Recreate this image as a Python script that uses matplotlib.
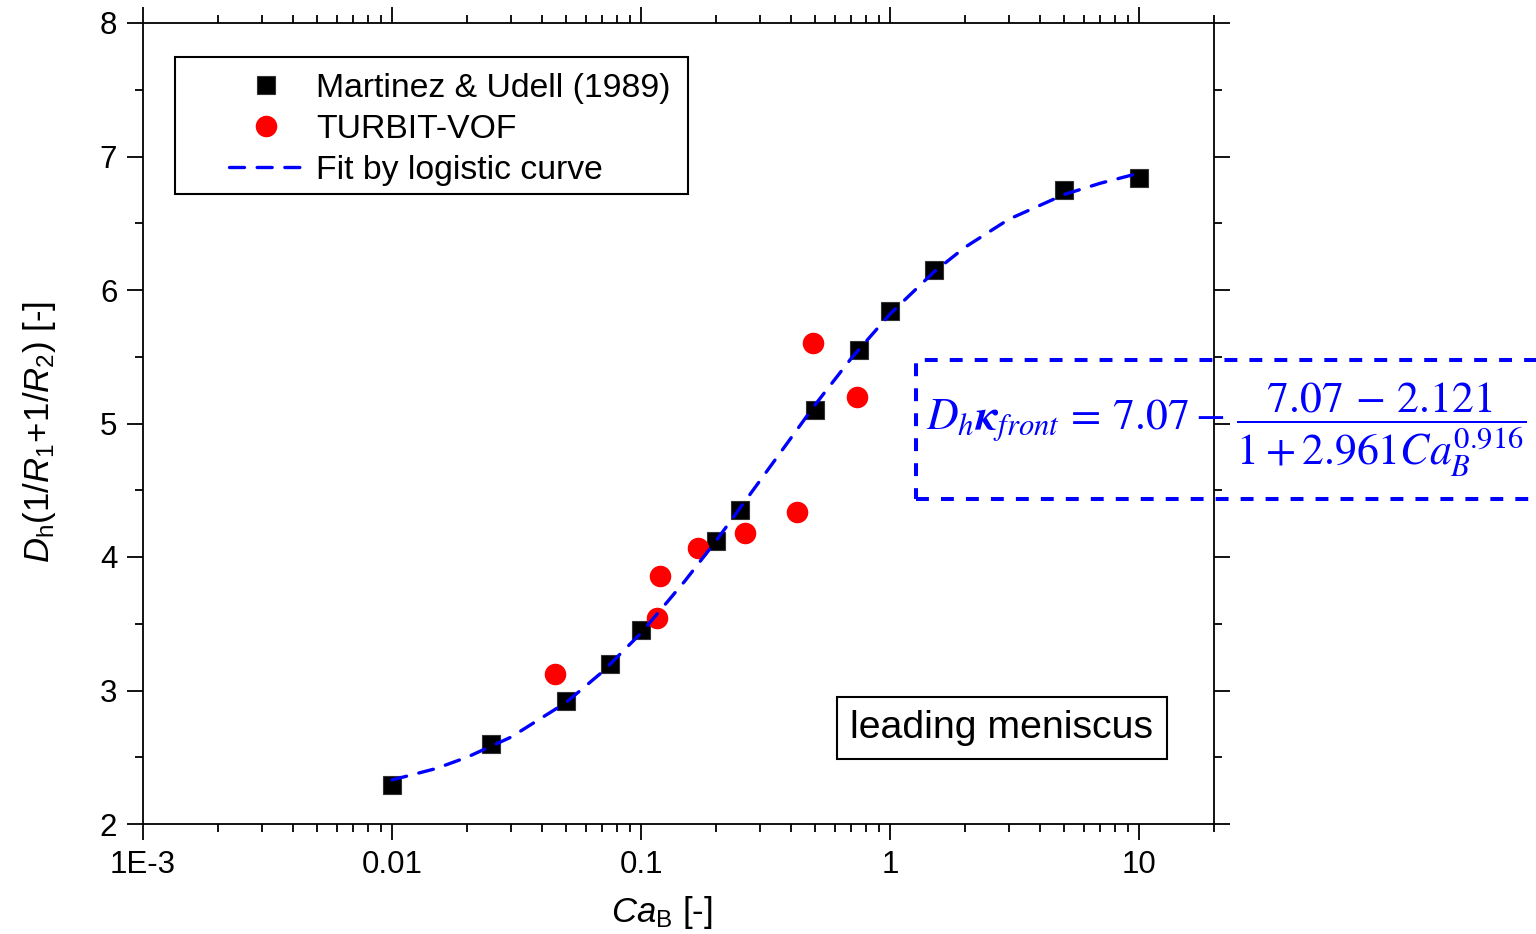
import matplotlib
matplotlib.use("Agg")
import matplotlib.pyplot as plt
from matplotlib.ticker import FixedLocator, FixedFormatter, LogLocator, NullFormatter, MultipleLocator
from matplotlib.patches import Rectangle

plt.rcParams['font.family'] = ['Liberation Sans', 'DejaVu Sans']
plt.rcParams['mathtext.fontset'] = 'custom'
plt.rcParams['mathtext.rm'] = 'Liberation Sans'
plt.rcParams['mathtext.it'] = 'Liberation Sans:italic'
plt.rcParams['mathtext.bf'] = 'Liberation Sans:bold'

# ---- data ----
exp_ca = [0.01, 0.025, 0.05, 0.075, 0.1, 0.2, 0.25, 0.5, 0.75, 1.0, 1.5, 5.0, 10.0]
exp_k = [2.29, 2.60, 2.92, 3.20, 3.45, 4.12, 4.35, 5.10, 5.55, 5.84, 6.15, 6.75, 6.84]

sim_ca = [0.045, 0.116, 0.119, 0.169, 0.262, 0.424, 0.491, 0.736]
sim_k = [3.12, 3.54, 3.86, 4.07, 4.18, 4.34, 5.60, 5.20]

fit_ca = [0.01, 0.015, 0.02, 0.03, 0.05, 0.07, 0.1, 0.15, 0.2, 0.3, 0.5, 0.7, 1.0, 1.5, 2.0, 3.0, 5.0, 7.0, 10.0]
fit_k = [2.33, 2.415, 2.50, 2.65, 2.91, 3.14, 3.43, 3.82, 4.12, 4.57, 5.14, 5.49, 5.82, 6.135, 6.32, 6.53, 6.715, 6.80, 6.875]

x_ticks = [1e-3, 1e-2, 1e-1, 1, 10]
x_tick_labels = ['1E-3', '0.01', '0.1', '1', '10']
y_ticks = [2, 3, 4, 5, 6, 7, 8]

fig = plt.figure(figsize=(15.36, 9.34), dpi=100)
ax = fig.add_axes([143/1536, 1-824/934, (1214-143)/1536, (824-23)/934])

ax.plot(exp_ca, exp_k, ls='none', marker='s', ms=12.5, mfc='black', mec='#333333', mew=0.8,
        label='Martinez & Udell (1989)', zorder=3)
ax.plot(sim_ca, sim_k, ls='none', marker='o', ms=14.5, mfc='red', mec='red',
        label='TURBIT-VOF', zorder=4)
ax.plot(fit_ca, fit_k, color='#0000FF', lw=2.4, dashes=(4.5, 3.8),
        dash_capstyle='round', label='Fit by logistic curve', zorder=5)

ax.set_xscale('log')
ax.set_xlim(1e-3, 20)
ax.set_ylim(2, 8)
ax.xaxis.set_major_locator(FixedLocator(x_ticks))
ax.xaxis.set_major_formatter(FixedFormatter(x_tick_labels))
ax.xaxis.set_minor_locator(LogLocator(base=10, subs=range(2, 10), numticks=20))
ax.xaxis.set_minor_formatter(NullFormatter())
ax.yaxis.set_major_locator(FixedLocator(y_ticks))
ax.yaxis.set_minor_locator(MultipleLocator(0.5))

ax.tick_params(which='both', direction='out', top=True, right=True, width=1.3, colors='black')
ax.tick_params(which='major', length=11.5, labelsize=22.5, pad=7)
ax.tick_params(which='minor', length=6)
for s in ax.spines.values():
    s.set_linewidth(1.3)

ax.set_xlabel(r'$Ca_\mathrm{B}$ [-]', fontsize=25)
ax.xaxis.set_label_coords((662-143)/1071, -(894-824)/801)
ax.set_ylabel(r'$D_\mathrm{h}(1/R_1\!+\!1/R_2)$ [-]', fontsize=25)
ax.yaxis.set_label_coords(-(143-58)/1071, (824-432)/801)

# legend (frameless) + frame rectangle
leg = ax.legend(loc='upper left', bbox_to_anchor=((229-143)/1071, (824-73)/801), fontsize=24.3,
                frameon=False, handlelength=2.2, handletextpad=0.38, labelspacing=0.3,
                borderpad=0, borderaxespad=0)
ax.add_patch(Rectangle(((175-143)/1071, (824-194)/801), (688-175)/1071, (194-57)/801,
                       transform=ax.transAxes, fill=False, ec='black', lw=1.5, zorder=6))

ax.text((1002-143)/1071, (824-728)/801, 'leading meniscus', transform=ax.transAxes,
        ha='center', va='center', fontsize=28.3,
        bbox=dict(boxstyle='square,pad=0.34', fc='white', ec='black', lw=1.5))

# formula box
fig.patches.append(Rectangle((916/1536, 1-499/934), 700/1536, 139/934, transform=fig.transFigure,
                             fill=False, ec='#0000FF', lw=2.9, ls=(0, (3.2, 3.0))))
fig.text(926/1536, 1-430/934,
         r'$D_h\boldsymbol{\kappa}_{front}\,=\,7.07-\,\dfrac{7.07\,-\,2.121}{1+2.961Ca_B^{0.916}}$',
         color='#0000FF', fontsize=31.5, math_fontfamily='stix', ha='left', va='center')

fig.savefig('out.png', dpi=100)
